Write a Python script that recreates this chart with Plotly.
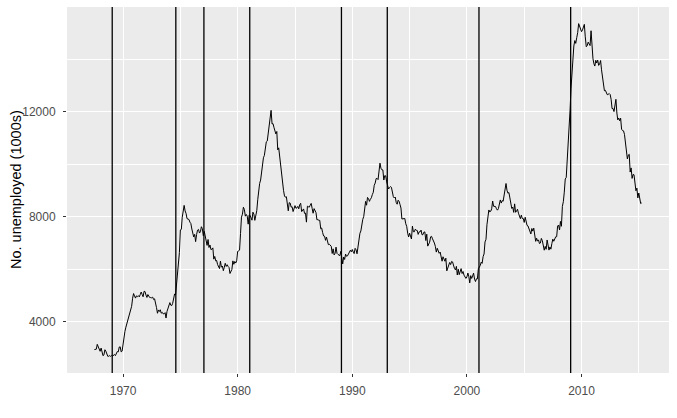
import pandas as pd
import plotly.graph_objects as go

# Monthly unemployment (thousands), Jul 1967 - Apr 2015
start_month = "1967-07-01"
unemploy = [
    # 1967 (Jul-Dec)
    2944, 2945, 2958, 3143, 3066, 3018,
    # 1968
    2878, 3001, 2877, 2709, 2740, 2938, 2883, 2768, 2686, 2689, 2715, 2685,
    # 1969
    2718, 2692, 2712, 2758, 2713, 2816, 2868, 2856, 3040, 3049, 2856, 2884,
    # 1970
    3201, 3453, 3635, 3797, 3919, 4071, 4175, 4256, 4456, 4591, 4898, 5076,
    # 1971
    4986, 4903, 4987, 4959, 4996, 4949, 5035, 5134, 5042, 4954, 5161, 5154,
    # 1972
    5019, 4928, 5038, 4959, 4922, 4923, 4913, 4939, 4849, 4875, 4602, 4543,
    # 1973
    4326, 4452, 4394, 4459, 4329, 4363, 4305, 4305, 4350, 4144, 4396, 4489,
    # 1974
    4644, 4731, 4634, 4618, 4705, 4927, 5063, 5022, 5437, 5523, 6140, 6636,
    # 1975
    7501, 7520, 7978, 8210, 8433, 8220, 8127, 7928, 7923, 7897, 7794, 7744,
    # 1976
    7534, 7326, 7230, 7330, 7053, 7322, 7490, 7518, 7380, 7430, 7620, 7545,
    # 1977
    7280, 7443, 7307, 7059, 6911, 7134, 6829, 6925, 6751, 6763, 6815, 6386,
    # 1978
    6489, 6318, 6337, 6180, 6127, 6028, 6309, 6080, 6125, 5947, 6077, 6228,
    # 1979
    6109, 6173, 6109, 6069, 5840, 5959, 5996, 6320, 6190, 6296, 6238, 6325,
    # 1980
    6683, 6702, 6729, 7358, 7984, 8098, 8363, 8281, 8021, 8088, 8023, 7718,
    # 1981
    8071, 8051, 7982, 7869, 8174, 8098, 7863, 8036, 8230, 8646, 9029, 9267,
    # 1982
    9397, 9705, 9895, 10244, 10335, 10538, 10849, 10881, 11217, 11529, 11938, 12051,
    # 1983
    11534, 11545, 11408, 11268, 11154, 11246, 10548, 10623, 10282, 9887, 9499, 9331,
    # 1984
    9008, 8791, 8746, 8762, 8456, 8226, 8537, 8519, 8367, 8381, 8198, 8358,
    # 1985
    8423, 8321, 8339, 8395, 8302, 8460, 8513, 8196, 8248, 8298, 8128, 8138,
    # 1986
    7795, 8402, 8383, 8364, 8439, 8508, 8319, 8135, 8310, 8243, 8159, 7883,
    # 1987
    7892, 7865, 7862, 7542, 7574, 7398, 7268, 7261, 7102, 7227, 7035, 6936,
    # 1988
    6953, 6929, 6876, 6601, 6779, 6546, 6605, 6843, 6604, 6568, 6537, 6518,
    # 1989
    6682, 6359, 6205, 6468, 6375, 6577, 6495, 6511, 6590, 6630, 6725, 6667,
    # 1990
    6752, 6651, 6598, 6797, 6742, 6590, 6922, 7188, 7368, 7459, 7764, 7901,
    # 1991
    8015, 8265, 8586, 8439, 8736, 8692, 8586, 8666, 8722, 8842, 8931, 9198,
    # 1992
    9283, 9454, 9460, 9415, 9744, 10040, 9850, 9787, 9781, 9398, 9565, 9557,
    # 1993
    9325, 9183, 9056, 9110, 9149, 9121, 8930, 8763, 8714, 8750, 8542, 8477,
    # 1994
    8630, 8583, 8470, 8331, 7915, 7927, 7946, 7933, 7734, 7632, 7375, 7230,
    # 1995
    7375, 7187, 7153, 7645, 7430, 7427, 7527, 7484, 7478, 7328, 7426, 7423,
    # 1996
    7491, 7313, 7318, 7415, 7423, 7095, 7337, 6882, 6979, 7031, 7236, 7253,
    # 1997
    7158, 7102, 7000, 6873, 6655, 6799, 6655, 6608, 6656, 6454, 6308, 6476,
    # 1998
    6368, 6306, 6422, 5941, 6047, 6212, 6259, 6179, 6300, 6280, 6100, 6032,
    # 1999
    5976, 6111, 5783, 6004, 5796, 5951, 6025, 5838, 5915, 5778, 5716, 5653,
    # 2000
    5708, 5858, 5733, 5481, 5758, 5651, 5747, 5853, 5625, 5534, 5639, 5634,
    # 2001
    6023, 6089, 6141, 6271, 6226, 6484, 6583, 7042, 7142, 7694, 8003, 8258,
    # 2002
    8182, 8215, 8304, 8599, 8399, 8393, 8390, 8304, 8251, 8307, 8520, 8640,
    # 2003
    8520, 8618, 8588, 8842, 8957, 9266, 9011, 8896, 8921, 8732, 8576, 8317,
    # 2004
    8370, 8167, 8491, 8170, 8212, 8286, 8136, 7990, 7927, 8061, 7932, 7934,
    # 2005
    7784, 7980, 7737, 7672, 7651, 7524, 7406, 7345, 7553, 7453, 7566, 7279,
    # 2006
    7064, 7184, 7072, 7120, 6980, 7001, 7175, 7091, 6847, 6727, 6872, 6762,
    # 2007
    7116, 6927, 6731, 6850, 6766, 6979, 7149, 7067, 7170, 7237, 7240, 7645,
    # 2008
    7685, 7497, 7822, 7637, 8395, 8575, 8937, 9438, 9494, 10074, 10538, 11286,
    # 2009
    12058, 12898, 13426, 13853, 14499, 14707, 14601, 14814, 15009, 15352, 15219, 15098,
    # 2010
    15046, 15113, 15202, 15325, 14849, 14474, 14512, 14648, 14579, 14516, 15081, 14348,
    # 2011
    14013, 13820, 13737, 13957, 13855, 13962, 13763, 13818, 13948, 13594, 13302, 13093,
    # 2012
    12797, 12813, 12713, 12646, 12660, 12692, 12656, 12471, 12115, 12124, 12005, 12298,
    # 2013
    12471, 11950, 11689, 11760, 11654, 11751, 11335, 11279, 11270, 11136, 10787, 10404,
    # 2014
    10202, 10349, 10380, 9702, 9859, 9460, 9608, 9599, 9262, 8990, 9090, 8717,
    # 2015 (Jan-Apr)
    8903, 8610, 8504, 8526,
]

# Presidential term start dates within the period
president_starts = ["1969-01-20", "1974-08-09", "1977-01-20", "1981-01-20",
                    "1989-01-20", "1993-01-20", "2001-01-20", "2009-01-20"]

x_tick_labels = ["1970", "1980", "1990", "2000", "2010"]
x_minor_labels = ["1975", "1985", "1995", "2005", "2015"]
y_ticks = [4000, 8000, 12000]
y_minor = [6000, 10000, 14000]
y_title = "No. unemployed (1000s)"

dates = pd.date_range(start_month, periods=len(unemploy), freq="MS")

# ggplot-like 5% expansion
d0, d1 = dates[0], dates[-1]
pad = (d1 - d0) * 0.05
x_range = [d0 - pad, d1 + pad]
ymin, ymax = min(unemploy), max(unemploy)
ypad = (ymax - ymin) * 0.05
y_range = [ymin - ypad, ymax + ypad]

fig = go.Figure()
fig.add_trace(go.Scatter(x=dates, y=unemploy, mode="lines",
                         line=dict(color="black", width=1), showlegend=False,
                         hoverinfo="x+y"))

for d in president_starts:
    fig.add_shape(type="line", xref="x", yref="paper", x0=d, x1=d, y0=0, y1=1,
                  line=dict(color="black", width=1.3), layer="above")

FONT = "Liberation Sans, Arial, sans-serif"
tickfont = dict(family=FONT, size=12, color="#4D4D4D")

fig.add_annotation(text=y_title, xref="paper", yref="paper", x=0, y=0.5,
                   xshift=-51, textangle=-90, showarrow=False,
                   xanchor="center", yanchor="middle",
                   font=dict(family=FONT, size=14.5, color="black"))

fig.update_layout(
    width=677, height=418,
    margin=dict(l=67, r=8, t=7, b=45, autoexpand=False),
    paper_bgcolor="white",
    plot_bgcolor="#EBEBEB",
    font=dict(family=FONT),
    xaxis=dict(
        automargin=False,
        range=x_range,
        tickvals=[f"{y}-01-01" for y in x_tick_labels],
        ticktext=x_tick_labels,
        ticks="outside", ticklen=3, tickcolor="#333333", tickwidth=1,
        tickfont=tickfont, ticklabelstandoff=4,
        showgrid=True, gridcolor="white", gridwidth=1.3,
        zeroline=False, showline=False,
        minor=dict(tickvals=[f"{y}-01-01" for y in x_minor_labels],
                   showgrid=True, gridcolor="white", gridwidth=0.6, ticks=""),
    ),
    yaxis=dict(
        automargin=False,
        range=y_range,
        tickvals=y_ticks,
        ticktext=[str(v) for v in y_ticks],
        ticks="outside", ticklen=3, tickcolor="#333333", tickwidth=1,
        tickfont=tickfont, ticklabelstandoff=5,
        showgrid=True, gridcolor="white", gridwidth=1.3,
        zeroline=False, showline=False,
        minor=dict(tickvals=y_minor, showgrid=True, gridcolor="white",
                   gridwidth=0.6, ticks=""),
    ),
)

fig.write_html("out.html", config={"displayModeBar": False},
               post_script="document.body.style.margin='0';document.body.style.padding='0';")
